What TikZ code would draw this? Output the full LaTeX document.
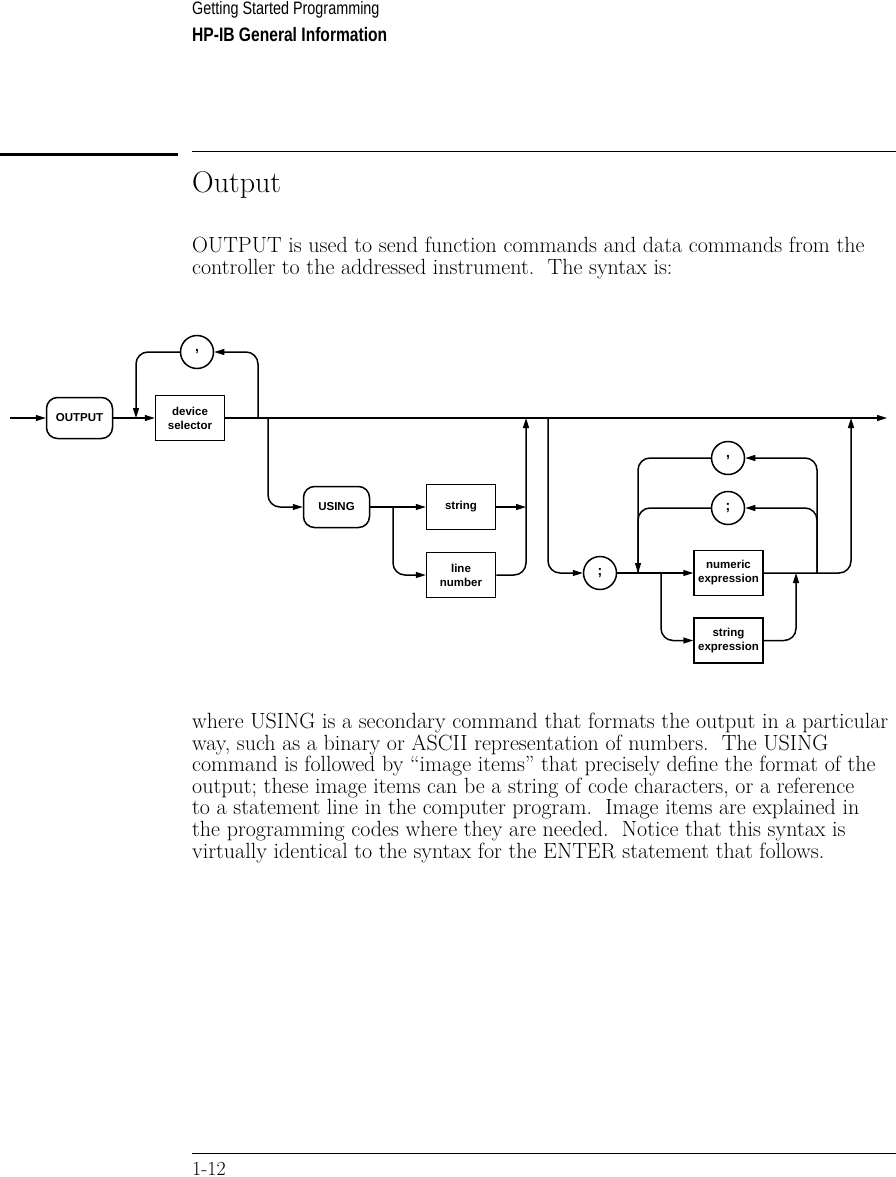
\documentclass[tikz,border=0pt]{standalone}
\usepackage{fontspec}
\setsansfont{Liberation Sans}
\newfontfamily\headfont[FakeStretch=0.8]{Liberation Sans}
\usetikzlibrary{arrows.meta,positioning,calc}

\begin{document}
\begin{tikzpicture}[x=1pt,y=-1pt,>={Triangle[length=10pt,width=6pt]},
 rail/.style={line width=1.5pt,rounded corners=12pt},
 term/.style={draw,line width=1.5pt,rounded corners=11pt,minimum width=66pt,minimum height=41pt,inner sep=0pt,align=center,font=\sffamily\bfseries\fontsize{11.5}{14}\selectfont},
 nterm/.style={term,sharp corners,minimum width=69pt,minimum height=45pt},
 sepa/.style={draw,circle,line width=1.5pt,minimum size=33pt,inner sep=0pt,font=\sffamily\bfseries\fontsize{14}{14}\selectfont},
 body/.style={anchor=base west,inner sep=0pt,align=left,font=\fontsize{22}{21.6}\selectfont}]
 \useasboundingbox (0,0) rectangle (896,1177);
 % page head
 \node[anchor=base west,inner sep=0pt,font=\headfont\fontsize{18}{18}\selectfont] (run) at (192,15) {Getting Started Programming};
 \node[anchor=base west,inner sep=0pt,font=\headfont\bfseries\fontsize{19.5}{19.5}\selectfont] (chap) at (192,42) {HP-IB General Information};
 \draw[line width=3.5pt] (0,154.5) -- (178,154.5);
 \draw[line width=1pt] (192,152) -- (896,152);
 \node[anchor=base west,inner sep=0pt,font=\fontsize{30}{30}\selectfont] (title) at (192,193) {Output};
 \node[body] (intro) at (192,274) {OUTPUT is used to send function commands and data commands from the\\controller to the addressed instrument.\ \ The syntax is:};

 % syntax diagram
 \coordinate (in) at (10,418);
 \node[term] (output) at (79.5,418) {OUTPUT};
 \node[nterm] (devsel) at (190,418) {device\\selector};
 \node[sepa] (comma1) at (197,352) {,};
 \coordinate (loopR) at (258,418);
 \coordinate (loopL) at (136,418);
 \coordinate (out) at (887,418);
 \coordinate (usingB) at (268,418);
 \node[term] (using) at (336.5,507) {USING};
 \node[nterm] (string) at (461,507) {string};
 \node[nterm] (linenum) at (461,575) {line\\number};
 \coordinate (strB) at (393,507);
 \coordinate (strJ) at (526,507);
 \coordinate (usingJ) at (526,418);
 \coordinate (listB) at (548,418);
 \node[sepa] (semi1) at (600,573) {;};
 \node[nterm] (numexpr) at (728.5,573) {numeric\\expression};
 \node[nterm] (strexpr) at (728.5,640.5) {string\\expression};
 \node[sepa] (comma2) at (728,458) {,};
 \node[sepa] (semi2) at (728,508) {;};
 \coordinate (itemB) at (661,573);
 \coordinate (itemJ) at (796,573);
 \coordinate (repR) at (817,573);
 \coordinate (repL) at (638,573);
 \coordinate (listJ) at (851,418);

 \draw[rail,->] (in) -- (output);
 \draw[rail,->] (output) -- (devsel);
 \draw[rail,->] (devsel) -- (out);
 \draw[rail,->] (loopR) |- (comma1);
 \draw[rail,->] (comma1) -| (loopL);
 \draw[rail,->] (usingB) |- (using);
 \draw[rail,->] (using) -- (string);
 \draw[rail,->] (strB) |- (linenum);
 \draw[rail,->] (string) -- (strJ);
 \draw[rail,->] (linenum) -| (usingJ);
 \draw[rail,->] (listB) |- (semi1);
 \draw[rail,->] (semi1) -- (numexpr);
 \draw[rail,->] (itemB) |- (strexpr);
 \draw[rail,->] (strexpr) -| (itemJ);
 \draw[rail,->] (numexpr) -| (listJ);
 \draw[rail,->] (repR) |- (comma2);
 \draw[rail,->] (repR) |- (semi2);
 \draw[rail,->] (comma2) -| (repL);
 \draw[rail] (semi2) -| (repL);

 \node[body] (notes) at (192,858) {where USING is a secondary command that formats the output in a particular\\way, such as a binary or ASCII representation of numbers.\ \ The USING\\command is followed by ``image items'' that precisely define the format of the\\output; these image items can be a string of code characters, or a reference\\to a statement line in the computer program.\ \ Image items are explained in\\the programming codes where they are needed.\ \ Notice that this syntax is\\virtually identical to the syntax for the ENTER statement that follows.};
 % page foot
 \draw[line width=1pt] (192,1153) -- (896,1153);
 \node[anchor=base west,inner sep=0pt,font=\fontsize{20}{20}\selectfont] (folio) at (192,1175) {1-12};
\end{tikzpicture}
\end{document}
